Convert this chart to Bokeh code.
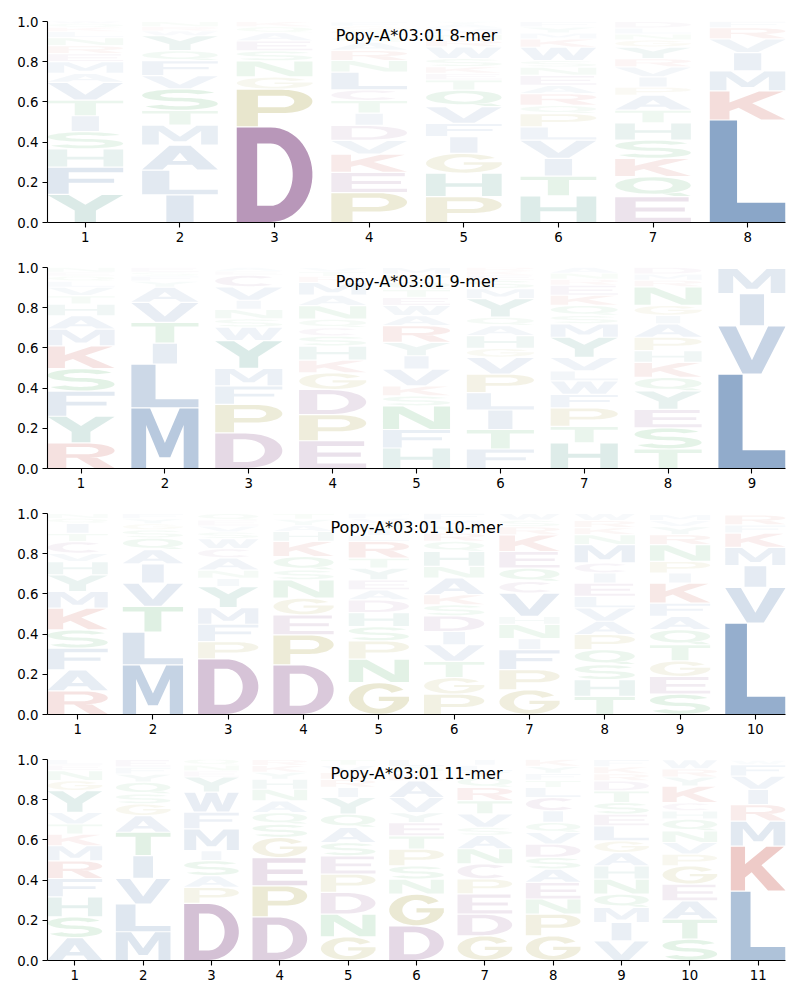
import numpy as np
from bokeh.plotting import figure
from bokeh.layouts import column
from bokeh.models import Label, FixedTicker, Range1d, PrintfTickFormatter, ColumnDataSource
from bokeh.embed import file_html
from bokeh.resources import INLINE

# ---------------- data (letters bottom -> top, heights = probability) ----------------
TITLES = ["Popy-A*03:01 8-mer", "Popy-A*03:01 9-mer", "Popy-A*03:01 10-mer", "Popy-A*03:01 11-mer"]

LETTERS_8 = ["YFHSITVAMERNLKQW", "ILAMTSVFQYWRN", "DPGNSEAQK", "PEKVDITCLNRAQSGF",
             "PHGIFVQTEKSWRNMAY", "HTIVLPQRAENSWKMYF", "EQKSHTAPIVRYGNLD", "LKMIVRF"]
HEIGHTS_8 = [
    [.14, .135, .091, .086, .079, .078, .088, .045, .058, .04, .04, .04, .03, .02, .02, .015],
    [.137, .124, .124, .099, .074, .107, .066, .074, .05, .074, .025, .02, .025],
    [.476, .187, .061, .08, .05, .05, .04, .03, .026],
    [.149, .10, .091, .069, .074, .061, .063, .053, .088, .058, .05, .041, .03, .03, .02, .02],
    [.129, .116, .099, .083, .066, .083, .083, .05, .033, .033, .041, .058, .033, .03, .03, .02, .014],
    [.132, .099, .088, .091, .066, .066, .041, .058, .041, .05, .041, .033, .066, .041, .03, .03, .026],
    [.129, .099, .091, .091, .086, .063, .074, .041, .05, .05, .041, .058, .035, .03, .03, .032],
    [.51, .145, .099, .091, .069, .055, .033],
]

LETTERS_9 = ["RYFSKMAHTVLQEN", "MLITVAYFSE", "DPFMYWSNIVCEA", "EPDGKHSCQNAMRTV",
             "HFNSKVIYRAWETQPM", "FTILPVGHAQYMSEKR", "HTPFWLVYMSQKERNA", "TSEYQKHPAIGNRMD", "LVIM"]
HEIGHTS_9 = [
    [.127, .133, .125, .112, .113, .083, .067, .058, .042, .042, .03, .025, .02, .023],
    [.302, .217, .105, .103, .10, .075, .03, .025, .02, .023],
    [.177, .142, .092, .087, .138, .067, .042, .047, .045, .067, .058, .02, .02],
    [.138, .13, .125, .083, .063, .07, .05, .042, .042, .067, .053, .063, .03, .023, .02],
    [.102, .092, .117, .05, .05, .083, .067, .067, .083, .05, .05, .04, .04, .04, .035, .034],
    [.097, .097, .097, .087, .092, .083, .045, .063, .05, .042, .092, .05, .042, .025, .02, .02],
    [.127, .083, .092, .067, .067, .05, .067, .10, .067, .042, .05, .05, .05, .03, .03, .03],
    [.097, .105, .092, .092, .067, .075, .058, .067, .067, .042, .05, .092, .033, .03, .035],
    [.47, .24, .16, .125],
]

LETTERS_10 = ["RAFSKMYHVCTIQN", "MLTVIAQSGYF", "DPFMYINACWSVEQ", "DPEGNSQKHAYT",
              "GNPSHDAEYTRLIQVF", "PGTVIDSKANHQRYMF", "GPFINHVCQEKRSW", "THSQPAVLEICMNKRW",
              "SEGTQAFKIPNRYVM", "LVIMKFR"]
HEIGHTS_10 = [
    [.118, .104, .108, .091, .108, .083, .083, .066, .041, .058, .041, .05, .025, .023],
    [.247, .163, .128, .116, .095, .071, .058, .041, .03, .025, .026],
    [.277, .086, .086, .083, .104, .041, .041, .061, .046, .05, .033, .03, .03, .032],
    [.247, .149, .10, .083, .091, .05, .066, .075, .05, .03, .03, .03],
    [.159, .116, .091, .071, .07, .063, .05, .05, .058, .05, .083, .03, .03, .03, .025, .025],
    [.101, .083, .08, .083, .066, .078, .055, .05, .083, .058, .075, .05, .041, .035, .03, .033],
    [.123, .10, .10, .055, .07, .04, .116, .058, .066, .083, .083, .04, .033, .033],
    [.09, .083, .075, .075, .075, .066, .066, .058, .066, .05, .05, .091, .05, .035, .035, .036],
    [.101, .088, .078, .08, .075, .066, .066, .10, .05, .058, .083, .05, .04, .03, .03],
    [.455, .177, .109, .09, .071, .041, .05],
]

LETTERS_11 = ["ASHFRMKTVYGNEL", "MLVITAGSQYFE", "DPASIMFWYENQ", "DPEGSQANHYKR",
              "GNDPESAQYIRKVT", "DGNSPTEYVAKQL", "GDEPCNASVTRQYLI", "GPNEASDVQICLTFYK",
              "VIMQNHAGLESTDRKF", "STAEGPVNQHCKYRW", "LKMRIVFW"]
HEIGHTS_11 = [
    [.114, .103, .10, .091, .088, .075, .058, .05, .058, .108, .05, .05, .028, .028],
    [.143, .138, .128, .113, .116, .083, .058, .05, .058, .04, .035, .038],
    [.284, .08, .058, .075, .05, .108, .083, .10, .075, .03, .03, .03],
    [.217, .154, .141, .10, .066, .058, .058, .058, .05, .035, .033, .03],
    [.118, .113, .108, .091, .091, .066, .075, .066, .083, .05, .04, .035, .035, .03],
    [.172, .158, .075, .066, .083, .066, .066, .05, .075, .083, .035, .035, .036],
    [.123, .108, .10, .075, .075, .075, .066, .041, .066, .066, .066, .05, .03, .03, .03],
    [.123, .108, .075, .083, .066, .058, .066, .058, .05, .058, .066, .05, .035, .035, .035, .035],
    [.098, .091, .075, .066, .075, .066, .066, .058, .075, .058, .058, .058, .05, .035, .035, .036],
    [.106, .10, .091, .083, .091, .058, .058, .058, .058, .041, .041, .083, .045, .04, .046],
    [.345, .224, .124, .083, .075, .066, .058, .02],
]

PANELS = [(TITLES[0], LETTERS_8, HEIGHTS_8), (TITLES[1], LETTERS_9, HEIGHTS_9),
          (TITLES[2], LETTERS_10, HEIGHTS_10), (TITLES[3], LETTERS_11, HEIGHTS_11)]

# ---------------- styles ----------------
BLUE, PURPLE, RED, GREEN, TEAL, BEIGE = "#8aa6c8", "#b492b6", "#d98a84", "#80c490", "#7db5aa", "#c1bb78"
COLOR = {}
for aa in "AVLIMFW": COLOR[aa] = BLUE
for aa in "DEC": COLOR[aa] = PURPLE
for aa in "KR": COLOR[aa] = RED
for aa in "STNQ": COLOR[aa] = GREEN
for aa in "HY": COLOR[aa] = TEAL
for aa in "PG": COLOR[aa] = BEIGE

# ---------------- letter outlines in a unit box ----------------
def arc(cx, cy, rx, ry, a0, a1, n=30):
    t = np.radians(np.linspace(a0, a1, n))
    return list(zip(cx + rx * np.cos(t), cy + ry * np.sin(t)))

def rect(x0, y0, x1, y1):
    return [(x0, y0), (x1, y0), (x1, y1), (x0, y1)]

def s_shape():
    h, hx = 0.085, 0.12
    ryc = (0.5 - h) / 2
    rxc = 0.5 - hx
    cu, cl = 0.5 + ryc, 0.5 - ryc
    ring = (arc(.5, cu, rxc + hx, ryc + h, 25, 270) + arc(.5, cl, rxc - hx, ryc - h, 90, -155)
            + arc(.5, cl, rxc + hx, ryc + h, -155, 90) + arc(.5, cu, rxc - hx, ryc - h, 270, 25))
    return [[ring]]

GLYPH = {
    "A": [[[(0, 0), (0.27, 0), (0.34, 0.2), (0.66, 0.2), (0.73, 0), (1, 0), (0.64, 1), (0.36, 1)],
           [(0.4, 0.36), (0.6, 0.36), (0.5, 0.7)]]],
    "C": [[arc(.5, .5, .5, .5, 45, 315) + arc(.5, .5, .25, .32, 315, 45)]],
    "D": [[[(0, 0)] + arc(.45, .5, .55, .5, -90, 90) + [(0, 1)],
           [(.27, .17)] + arc(.45, .5, .29, .33, -90, 90) + [(.27, .83)]]],
    "E": [[[(0, 0), (1, 0), (1, .17), (.27, .17), (.27, .42), (.92, .42), (.92, .58), (.27, .58),
            (.27, .83), (.97, .83), (.97, 1), (0, 1)]]],
    "F": [[[(0, 0), (.28, 0), (.28, .42), (.88, .42), (.88, .58), (.28, .58), (.28, .83), (1, .83),
            (1, 1), (0, 1)]]],
    "G": [[arc(.5, .5, .5, .5, 35, 350) + [(1.0, .41), (1.0, .56), (.5, .56), (.5, .42)]
           + arc(.5, .5, .26, .33, 346, 35)]],
    "H": [[[(0, 0), (.26, 0), (.26, .42), (.74, .42), (.74, 0), (1, 0), (1, 1), (.74, 1), (.74, .58),
            (.26, .58), (.26, 1), (0, 1)]]],
    "I": [[rect(.32, 0, .68, 1)]],
    "K": [[[(0, 0), (.26, 0), (.26, .3), (.38, .42), (.68, 0), (1, 0), (.56, .58), (.97, 1), (.65, 1),
            (.26, .6), (.26, 1), (0, 1)]]],
    "L": [[[(0, 0), (1, 0), (1, .19), (.36, .19), (.36, 1), (0, 1)]]],
    "M": [[[(0, 0), (.22, 0), (.22, .72), (.42, .18), (.58, .18), (.78, .72), (.78, 0), (1, 0), (1, 1),
            (.72, 1), (.5, .42), (.28, 1), (0, 1)]]],
    "N": [[[(0, 0), (.24, 0), (.24, .68), (.7, 0), (1, 0), (1, 1), (.76, 1), (.76, .32), (.3, 1), (0, 1)]]],
    "P": [[[(0, 0), (.28, 0), (.28, .36), (.6, .36)] + arc(.6, .68, .4, .32, -90, 90) + [(0, 1)],
           [(.28, .52)] + arc(.6, .68, .16, .16, -90, 90) + [(.28, .84)]]],
    "Q": [[arc(.5, .56, .5, .44, 0, 360), arc(.5, .56, .26, .27, 0, 360)],
          [[(.62, .12), (.78, 0), (1, 0), (.86, .17)]]],
    "R": [[[(0, 0), (.28, 0), (.28, .42), (.58, .42)] + arc(.58, .71, .42, .29, -90, 90) + [(0, 1)],
           [(.28, .56)] + arc(.58, .71, .18, .15, -90, 90) + [(.28, .86)]],
          [[(.44, .42), (.7, 0), (1, 0), (.74, .42)]]],
    "S": s_shape(),
    "T": [[[(.36, 0), (.64, 0), (.64, .82), (1, .82), (1, 1), (0, 1), (0, .82), (.36, .82)]]],
    "V": [[[(0, 1), (.36, 0), (.64, 0), (1, 1), (.74, 1), (.5, .28), (.26, 1)]]],
    "W": [[[(0, 1), (.18, 0), (.4, 0), (.5, .55), (.6, 0), (.82, 0), (1, 1), (.8, 1), (.7, .35),
            (.6, 1), (.4, 1), (.3, .35), (.2, 1)]]],
    "Y": [[[(0, 1), (.36, .42), (.36, 0), (.64, 0), (.64, .42), (1, 1), (.72, 1), (.5, .64), (.28, 1)]]],
}

LETTER_W = 0.8

def make_panel(title, letters, heights, first):
    n = len(letters)
    xs, ys, colors, alphas = [], [], [], []
    for i, (col_letters, col_heights) in enumerate(zip(letters, heights)):
        x = i + 1
        y0 = 0.0
        for ch, h in zip(col_letters, col_heights):
            pad = min(0.003, h * 0.08)
            gx, gy = [], []
            for poly in GLYPH[ch]:
                gx.append([[x - LETTER_W / 2 + LETTER_W * u for u, v in ring] for ring in poly])
                gy.append([[y0 + pad + (h - 2 * pad) * v for u, v in ring] for ring in poly])
            xs.append(gx)
            ys.append(gy)
            colors.append(COLOR[ch])
            alphas.append(min(1.0, 2.0 * h))
            y0 += h
    src = ColumnDataSource(dict(xs=xs, ys=ys, color=colors, alpha=alphas))

    top = 21 if first else 13
    p = figure(width=792, height=233 + top, x_range=Range1d(0.6, n + 0.4), y_range=Range1d(0, 1),
               output_backend="svg", toolbar_location=None,
               min_border_left=47, min_border_right=7, min_border_top=top, min_border_bottom=32)
    p.multi_polygons(xs="xs", ys="ys", fill_color="color", fill_alpha="alpha", line_color=None, source=src)
    p.xgrid.visible = False
    p.ygrid.visible = False
    p.outline_line_color = None
    p.background_fill_color = "white"
    p.xaxis.ticker = FixedTicker(ticks=list(range(1, n + 1)))
    p.yaxis.ticker = FixedTicker(ticks=[0, 0.2, 0.4, 0.6, 0.8, 1.0])
    p.yaxis.formatter = PrintfTickFormatter(format="%.1f")
    for ax in (p.xaxis[0], p.yaxis[0]):
        ax.minor_tick_line_color = None
        ax.major_tick_in = 0
        ax.major_tick_out = 5
        ax.axis_line_color = "black"
        ax.axis_line_width = 1.1
        ax.major_tick_line_color = "black"
        ax.major_tick_line_width = 1.1
        ax.major_label_text_font = "DejaVu Sans"
        ax.major_label_text_font_size = "13.3px"
        ax.major_label_text_color = "black"
        ax.major_label_standoff = 4
    p.add_layout(Label(x=(0.6 + n + 0.4) / 2, y=0.93, text=title, text_align="center",
                       text_baseline="middle", text_font="DejaVu Sans", text_font_size="16px",
                       text_color="black"))
    return p

figs = [make_panel(t, l, h, k == 0) for k, (t, l, h) in enumerate(PANELS)]
layout = column(*figs, spacing=0)
open("out.html", "w").write(file_html(layout, INLINE))
